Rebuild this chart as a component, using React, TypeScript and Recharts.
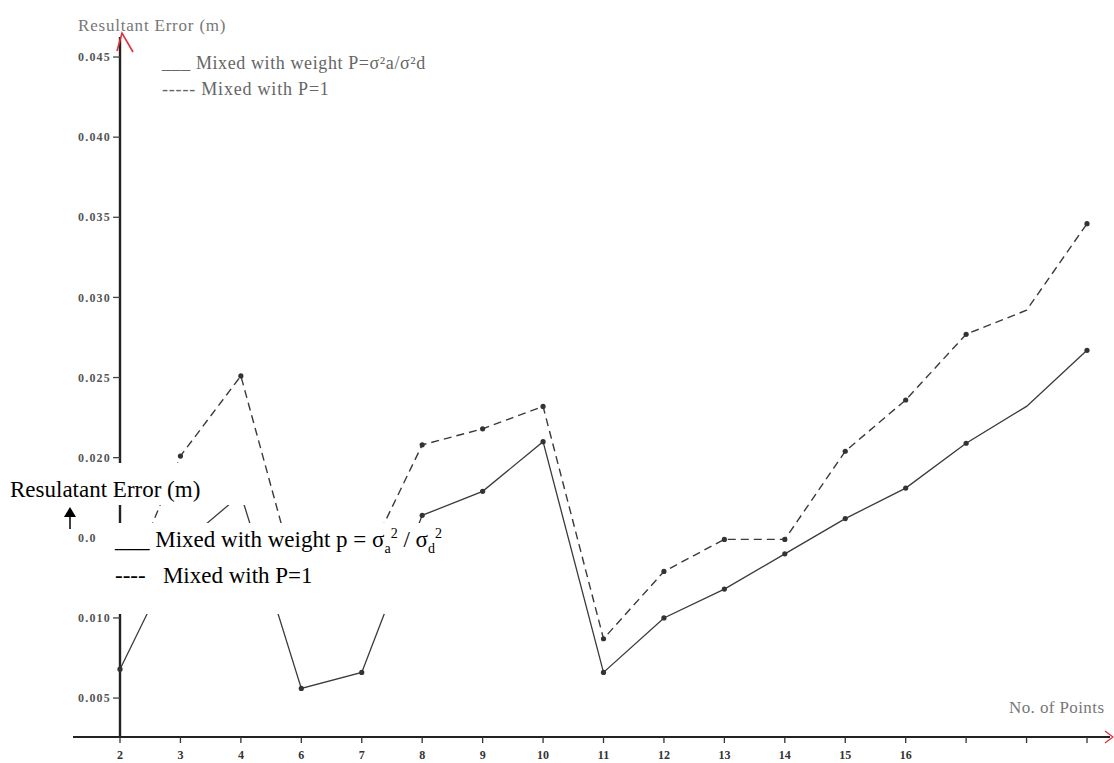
import React from 'react';
import { LineChart, Line, XAxis, YAxis, ReferenceLine } from 'recharts';

// point ids along the x axis, and what is printed under each tick
const pointIds = ['2', '3', '4', '6', '7', '8', '9', '10', '11', '12', '13', '14', '15', '16', '17', '18', '19'];
const tickLabels = ['2', '3', '4', '6', '7', '8', '9', '10', '11', '12', '13', '14', '15', '16', '', '', ''];

// resultant error (m)
const weighted = [0.0068, 0.0145, 0.0177, 0.0056, 0.0066, 0.0164, 0.0179, 0.021, 0.0066, 0.01, 0.0118, 0.014, 0.0162, 0.0181, 0.0209, 0.0232, 0.0267];
const unweighted = [0.011, 0.0201, 0.0251, 0.0113, 0.013, 0.0208, 0.0218, 0.0232, 0.0087, 0.0129, 0.0149, 0.0149, 0.0204, 0.0236, 0.0277, 0.0292, 0.0346];

const yTicks = [0.005, 0.01, 0.015, 0.02, 0.025, 0.03, 0.035, 0.04, 0.045];
const yTickLabels = ['0.005', '0.010', '0.015', '0.020', '0.025', '0.030', '0.035', '0.040', '0.045'];

// the gaps in the plot, with no dot drawn
const noDot = [15];

const data = pointIds.map((id, i) => ({
  id,
  label: tickLabels[i],
  weighted: weighted[i],
  unweighted: unweighted[i],
}));

const SERIF = '"Liberation Serif", "Times New Roman", serif';
const INK = '#3a3a3a';
const Y_SHIFT = 47; // y axis sits on the first point, not on the plot edge

const Dot = (props: any) => {
  const { cx, cy, index } = props;
  if (noDot.includes(index)) return <g key={`d-${index}`} />;
  return <circle key={`d-${index}`} cx={cx} cy={cy} r={2.6} fill="#333" />;
};

const YTick = (props: any) => {
  const { x, y, payload } = props;
  const ax = x + Y_SHIFT;
  const i = yTicks.indexOf(payload.value);
  return (
    <g>
      <line x1={ax - 7} y1={y} x2={ax} y2={y} stroke="#444" strokeWidth={1.3} />
      <text x={ax - 9} y={y} dy="0.35em" textAnchor="end" fontFamily={SERIF} fontWeight="bold" fontSize={12} letterSpacing={1.2} fill="#555">
        {yTickLabels[i]}
      </text>
    </g>
  );
};

const XTick = (props: any) => {
  const { x, y, payload } = props;
  const i = pointIds.indexOf(payload.value);
  return (
    <text x={x} y={y} dy="0.71em" textAnchor="middle" fontFamily={SERIF} fontWeight="bold" fontSize={12} fill="#333">
      {tickLabels[i]}
    </text>
  );
};

const gray = (left: number, top: number, size: number, color: string, spacing: number) => ({
  position: 'absolute' as const,
  left,
  top,
  fontFamily: SERIF,
  fontSize: size,
  color,
  letterSpacing: spacing,
  whiteSpace: 'pre' as const,
  lineHeight: '22px',
});

const black = (left: number, top: number) => ({
  position: 'absolute' as const,
  left,
  top,
  fontFamily: SERIF,
  fontSize: 23,
  color: '#000',
  whiteSpace: 'pre' as const,
  lineHeight: '26px',
});

const small = { fontSize: 14, lineHeight: 0 };

export default function App() {
  return (
    <div style={{ position: 'absolute', left: 0, top: 0, width: 1114, height: 763, background: '#fff', overflow: 'hidden' }}>
      <LineChart width={1114} height={763} data={data} margin={{ top: 37, right: 4, bottom: 0, left: 13 }}>
        <XAxis
          dataKey="id"
          height={26}
          padding={{ left: 47, right: 23 }}
          interval={0}
          axisLine={{ stroke: '#222', strokeWidth: 2.2 }}
          tickLine={{ stroke: '#333', strokeWidth: 1.3 }}
          tickSize={6}
          tickMargin={7}
          tick={<XTick />}
        />
        <YAxis
          width={60}
          domain={[0.00257, 0.04625]}
          ticks={yTicks}
          allowDataOverflow
          axisLine={false}
          tickLine={false}
          tickSize={0}
          tickMargin={0}
          tick={<YTick />}
        />
        <ReferenceLine x="2" stroke="#222" strokeWidth={2.4} />
        <Line
          type="linear"
          dataKey="unweighted"
          stroke={INK}
          strokeWidth={1.4}
          strokeDasharray="8 5"
          dot={<Dot />}
          isAnimationActive={false}
        />
        <Line
          type="linear"
          dataKey="weighted"
          stroke={INK}
          strokeWidth={1.3}
          dot={<Dot />}
          isAnimationActive={false}
        />
      </LineChart>

      {/* scanned labels of the original figure */}
      <div style={gray(78, 15, 17, '#777', 0.8)}>Resultant Error (m)</div>
      <div style={gray(162, 52, 18, '#666', 0.6)}>___ Mixed with weight P=σ²a/σ²d</div>
      <div style={gray(162, 78, 18, '#666', 0.8)}>----- Mixed with P=1</div>
      <div style={gray(1009, 697, 17, '#777', 0.4)}>No. of Points</div>

      <svg width={1114} height={763} style={{ position: 'absolute', left: 0, top: 0, pointerEvents: 'none' }}>
        <path d="M117,51 L122,33 L133,52" fill="none" stroke="#e0303a" strokeWidth={1.6} />
        <path d="M1105,731 L1113,737 L1105,743" fill="none" stroke="#e0303a" strokeWidth={1.4} />
      </svg>

      {/* pasted-on white boxes with the redrawn captions */}
      <div style={{ position: 'absolute', left: 0, top: 463, width: 255, height: 42, background: '#fff' }} />
      <div style={black(10, 477)}>Resulatant Error (m)</div>
      <div style={{ position: 'absolute', left: 96, top: 523, width: 374, height: 91, background: '#fff' }} />
      <div style={black(115, 527)}>
        ___ Mixed with weight p = σ<sub style={small}>a</sub><sup style={small}>2</sup> / σ<sub style={small}>d</sub><sup style={small}>2</sup>
      </div>
      <div style={black(115, 563)}>{'----   Mixed with P=1'}</div>
      <svg width={20} height={26} style={{ position: 'absolute', left: 60, top: 505, pointerEvents: 'none' }}>
        <path d="M10,2 L16,12 L4,12 Z" fill="#000" />
        <line x1={10} y1={11} x2={10} y2={24} stroke="#000" strokeWidth={1.5} />
      </svg>
    </div>
  );
}
